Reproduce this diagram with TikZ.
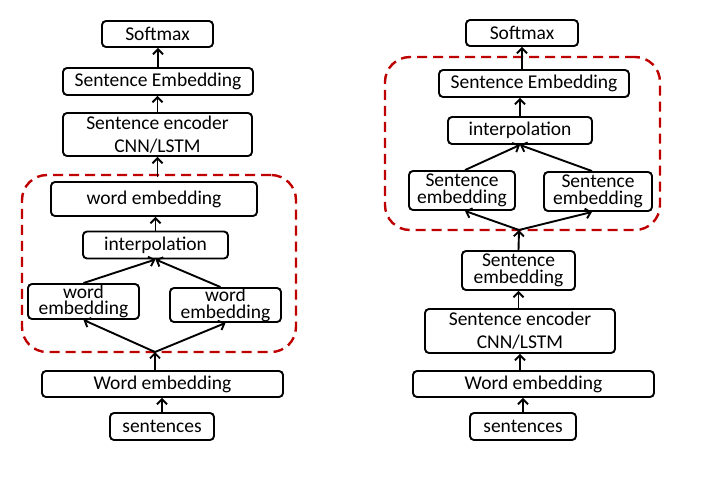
\documentclass[tikz,border=0pt]{standalone}
\usepackage{fontspec}
\setmainfont{Carlito}
\usetikzlibrary{arrows.meta}
\begin{document}
\begin{tikzpicture}[x=1pt,y=-1pt,
 box/.style={draw, line width=1.9pt, rounded corners=4pt, inner sep=0pt, align=center, font=\fontsize{19.5}{16.5}\selectfont},
 loose/.style={font=\fontsize{19.5}{23}\selectfont},
 arr/.style={line width=1.9pt, -{Straight Barb[length=5pt,width=10pt,line width=1.9pt]}},
 grp/.style={draw=red!75!black, line width=2.4pt, dash pattern=on 10pt off 6pt, rounded corners=25pt, inner sep=0pt}]
\useasboundingbox (0,0) rectangle (704,485);
% ---------- left ----------
\node[grp, minimum width=274, minimum height=177] (g1) at (159,263.5) {};
\node[box, minimum width=111, minimum height=26] (sm1) at (157.5,34) {Softmax};
\node[box, minimum width=190, minimum height=27] (se1) at (158,81.5) {Sentence Embedding};
\node[box, loose, minimum width=189, minimum height=43] (enc1) at (157.5,134.5) {Sentence encoder\\CNN/LSTM};
\node[box, minimum width=206, minimum height=34] (we1) at (154,199) {word embedding};
\node[box, minimum width=145, minimum height=27] (int1) at (155.5,245) {interpolation};
\node[box, minimum width=111, minimum height=35] (wl) at (83.5,301.5) {word\\embedding};
\node[box, minimum width=111, minimum height=34] (wr) at (225.5,305) {word\\embedding};
\node[box, minimum width=241, minimum height=26] (wemb1) at (162.5,384) {Word embedding};
\node[box, minimum width=104, minimum height=27] (sen1) at (162,426.5) {sentences};
\coordinate (j1) at (155,352);
\draw[arr] (sen1.north) -- (sen1 |- wemb1.south);
\draw[arr] (wemb1.north -| j1) -- (j1);
\draw[arr] (j1) -- (wl.south);
\draw[arr] (j1) -- (wr.south);
\draw[arr] (wl.north) -- (int1.south);
\draw[arr] ([xshift=-5pt]wr.north) -- (int1.south);
\draw[arr] (int1.north) -- (int1 |- we1.south);
\draw[arr] ([yshift=-3pt]g1.north -| enc1) -- (enc1.south);
\draw[arr] (enc1.north) -- (enc1 |- se1.south);
\draw[arr] (se1.north) -- (se1 |- sm1.south);
% ---------- right ----------
\node[grp, minimum width=275, minimum height=173] (g2) at (522.5,143.5) {};
\node[box, minimum width=112, minimum height=26] (sm2) at (522,33) {Softmax};
\node[box, minimum width=190, minimum height=27] (se2) at (534,83.5) {Sentence Embedding};
\node[box, minimum width=144, minimum height=27] (int2) at (520,130.5) {interpolation};
\node[box, minimum width=106, minimum height=39] (sl) at (462,190.5) {Sentence\\embedding};
\node[box, minimum width=108, minimum height=39] (sr) at (598,191.5) {Sentence\\embedding};
\node[box, minimum width=113, minimum height=39] (smid) at (518.5,270.5) {Sentence\\embedding};
\node[box, loose, minimum width=190, minimum height=44] (enc2) at (520,331) {Sentence encoder\\CNN/LSTM};
\node[box, minimum width=241, minimum height=26] (wemb2) at (533.5,384) {Word embedding};
\node[box, minimum width=106, minimum height=27] (sen2) at (523,426.5) {sentences};
\coordinate (j2) at (519,230);
\draw[arr] (sen2.north) -- (sen2 |- wemb2.south);
\draw[arr] (enc2 |- wemb2.north) -- (enc2.south);
\draw[arr] (smid |- enc2.north) -- (smid.south);
\draw[arr] (smid.north) -- (j2);
\draw[arr] (j2) -- ([xshift=3pt]sl.south);
\draw[arr] (j2) -- ([xshift=-6pt]sr.south);
\draw[arr] ([xshift=3pt]sl.north) -- (int2.south);
\draw[arr] ([xshift=-6pt]sr.north) -- (int2.south);
\draw[arr] (int2.north) -- (int2 |- se2.south);
\draw[arr] (sm2 |- se2.north) -- (sm2.south);
\end{tikzpicture}
\end{document}
